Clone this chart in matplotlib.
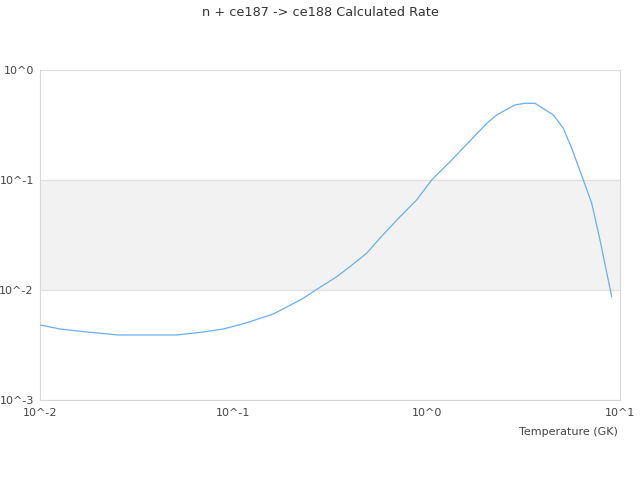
import matplotlib
matplotlib.use("Agg")
import matplotlib.pyplot as plt
from matplotlib.ticker import FixedLocator, NullLocator

# temperature (GK) and rate
temperature = [0.0100, 0.0127, 0.0168, 0.0254, 0.0509, 0.0700, 0.0887, 0.1148,
               0.161, 0.2255, 0.2806, 0.3425, 0.401, 0.4896, 0.574, 0.728,
               0.887, 1.061, 1.321, 2.044, 2.30, 2.862, 3.226, 3.633, 4.52,
               5.09, 5.63, 6.46, 7.14, 7.88, 9.06]
rate = [0.00481, 0.00442, 0.00418, 0.00390, 0.00390, 0.00415, 0.00442, 0.00498,
        0.00605, 0.00823, 0.01057, 0.01320, 0.01630, 0.0216, 0.0297, 0.0464,
        0.0658, 0.100, 0.1467, 0.327, 0.390, 0.481, 0.498, 0.498, 0.390,
        0.295, 0.194, 0.100, 0.0614, 0.0285, 0.00869]

x_ticks = [0.01, 0.1, 1, 10]
x_labels = ["10^-2", "10^-1", "10^0", "10^1"]
y_ticks = [0.001, 0.01, 0.1, 1]
y_labels = ["10^-3", "10^-2", "10^-1", "10^0"]

fig = plt.figure(figsize=(6.4, 4.8), dpi=100)
ax = fig.add_axes([0.0625, 0.1667, 0.90625, 0.6875])

ax.axhspan(0.01, 0.1, color="#f2f2f2", zorder=0)
ax.plot(temperature, rate, color="#6aaef0", linewidth=0.9, zorder=3)

ax.set_xscale("log")
ax.set_yscale("log")
ax.set_xlim(0.01, 10)
ax.set_ylim(0.001, 1)

ax.xaxis.set_major_locator(FixedLocator(x_ticks))
ax.xaxis.set_minor_locator(NullLocator())
ax.set_xticklabels(x_labels)
ax.yaxis.set_major_locator(FixedLocator(y_ticks))
ax.yaxis.set_minor_locator(NullLocator())
ax.set_yticklabels(y_labels)

ax.tick_params(length=0, labelsize=8, labelcolor="#444444")
ax.tick_params(axis="x", pad=6)
ax.tick_params(axis="y", pad=4.5)

ax.grid(axis="y", color="#e0e0e0", linewidth=0.9)
for side in ["left", "right", "bottom"]:
    ax.spines[side].set_color("#d8d8d8")
ax.spines["top"].set_visible(False)

fig.text(0.5, 0.975, "n + ce187 -> ce188 Calculated Rate", ha="center", va="center",
         fontsize=9.3, color="#333333")
fig.text(0.966, 0.101, "Temperature (GK)", ha="right", va="center",
         fontsize=8, color="#444444")

fig.savefig("out.png", dpi=100)
